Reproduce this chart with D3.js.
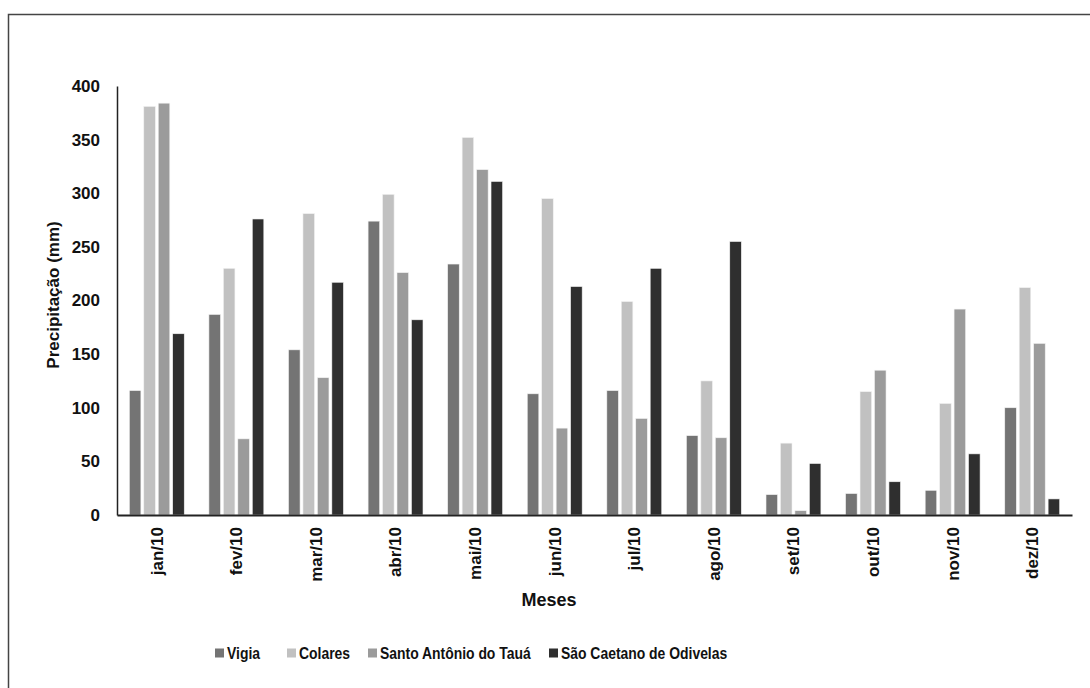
<!DOCTYPE html>
<html>
<head>
<meta charset="utf-8">
<script src="https://cdn.jsdelivr.net/npm/d3@7"></script>
<style>
  html, body { margin: 0; padding: 0; background: #fff; }
  svg { display: block; font-family: "Liberation Sans", Arial, sans-serif; }
</style>
</head>
<body>
<svg id="chart" width="1090" height="688"></svg>
<script>
// Monthly rainfall (mm) in 2010 for four municipalities
const months = ["jan/10","fev/10","mar/10","abr/10","mai/10","jun/10","jul/10","ago/10","set/10","out/10","nov/10","dez/10"];
const seriesNames = ["Vigia","Colares","Santo Antônio do Tauá","São Caetano de Odivelas"];
const vigia     = [116, 187, 154, 274, 234, 113, 116, 74, 19, 20, 23, 100];
const colares   = [381, 230, 281, 299, 352, 295, 199, 125, 67, 115, 104, 212];
const santo     = [384, 71, 128, 226, 322, 81, 90, 72, 4, 135, 192, 160];
const saoCaetano= [169, 276, 217, 182, 311, 213, 230, 255, 48, 31, 57, 15];
const yTicks = [0, 50, 100, 150, 200, 250, 300, 350, 400];
const colors = ["#747474", "#c1c1c1", "#9b9b9b", "#2f2f2f"];

const seriesValues = [vigia, colares, santo, saoCaetano];
const rows = months.map((m, i) => ({
  month: m,
  vals: seriesNames.map((s, k) => ({ key: s, value: seriesValues[k][i] }))
}));

const svg = d3.select("#chart");
const plot = { left: 117, right: 1072, top: 86, bottom: 515 };
const FONT = "Liberation Sans, Arial, sans-serif";

// outer frame
svg.append("rect")
  .attr("x", 8.5).attr("y", 14.5)
  .attr("width", 1100).attr("height", 700)
  .attr("fill", "none").attr("stroke", "#444").attr("stroke-width", 1.5);

const x0 = d3.scaleBand().domain(months).range([plot.left, plot.right])
  .paddingInner(0.31).paddingOuter(0.155);
const x1 = d3.scaleBand().domain(seriesNames).range([0, x0.bandwidth()]).paddingInner(0.2);
const y = d3.scaleLinear().domain([0, 400]).range([plot.bottom, plot.top]);
const color = d3.scaleOrdinal().domain(seriesNames).range(colors);

// bars
const groups = svg.append("g").selectAll("g").data(rows).join("g")
  .attr("transform", d => `translate(${x0(d.month)},0)`);
groups.selectAll("rect").data(d => d.vals).join("rect")
  .attr("x", d => x1(d.key))
  .attr("width", x1.bandwidth())
  .attr("y", d => y(d.value))
  .attr("height", d => y(0) - y(d.value))
  .attr("fill", d => color(d.key))
  .attr("stroke", "#f2f2f2").attr("stroke-width", 0.6);

// y axis
const yAxis = svg.append("g")
  .attr("transform", `translate(${plot.left},0)`)
  .call(d3.axisLeft(y).tickValues(yTicks).tickSize(0).tickPadding(17));
yAxis.select(".domain").attr("stroke", "#222").attr("stroke-width", 1.5);
yAxis.selectAll("text")
  .attr("font-size", 17).attr("font-weight", "bold").attr("fill", "#111")
  .attr("font-family", FONT);

// x axis
const xAxis = svg.append("g")
  .attr("transform", `translate(0,${plot.bottom})`)
  .call(d3.axisBottom(x0).tickSize(0).tickPadding(0));
xAxis.select(".domain").attr("stroke", "#222").attr("stroke-width", 2);
xAxis.selectAll("text")
  .attr("font-size", 17).attr("font-weight", "bold").attr("fill", "#111")
  .attr("font-family", FONT)
  .attr("transform", "rotate(-90)")
  .attr("text-anchor", "end")
  .attr("x", -12).attr("y", 0).attr("dy", "0.35em");

// axis titles
svg.append("text")
  .attr("transform", "translate(59,295) rotate(-90)")
  .attr("text-anchor", "middle")
  .attr("font-size", 17).attr("font-weight", "bold").attr("fill", "#111")
  .text("Precipitação (mm)");
svg.append("text")
  .attr("x", 549).attr("y", 606)
  .attr("text-anchor", "middle")
  .attr("font-size", 18).attr("font-weight", "bold").attr("fill", "#111")
  .text("Meses");

// legend (slightly condensed text)
const legendX = [215, 287, 368, 549];
const legend = svg.append("g").selectAll("g").data(seriesNames).join("g")
  .attr("transform", (d, i) => `translate(${legendX[i]},653)`);
legend.append("rect")
  .attr("x", 0).attr("y", -4.5).attr("width", 9).attr("height", 9)
  .attr("fill", d => color(d));
legend.append("text")
  .attr("transform", "translate(12,0) scale(0.87,1)")
  .attr("dy", "0.35em")
  .attr("font-size", 16).attr("font-weight", "bold").attr("fill", "#111")
  .text(d => d);
</script>
</body>
</html>
